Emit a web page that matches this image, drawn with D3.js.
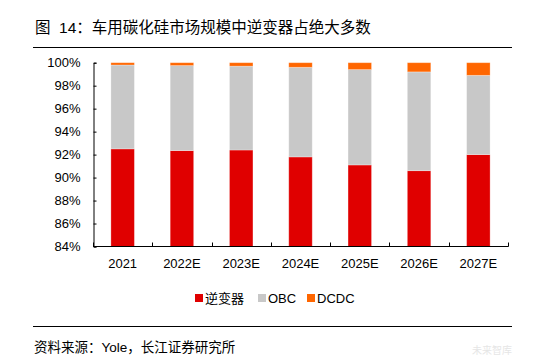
<!DOCTYPE html>
<html><head><meta charset="utf-8">
<script src="https://cdn.jsdelivr.net/npm/d3@7"></script>
<style>body{margin:0;background:#fff;} svg{display:block;}</style>
</head><body>
<svg id="c" width="541" height="357"></svg>
<script>
const categories = ["2021","2022E","2023E","2024E","2025E","2026E","2027E"];
const seriesNames = ["逆变器","OBC","DCDC"];
const inverter = [92.5, 92.35, 92.4, 91.8, 91.1, 90.6, 92.0];
const obc = [7.3, 7.4, 7.3, 7.8, 8.3, 8.6, 6.9];
const dcdc = [0.2, 0.25, 0.3, 0.4, 0.6, 0.8, 1.1];
const yTicks = [84,86,88,90,92,94,96,98,100];
const colors = ["#e00000","#c8c8c8","#ff6600"];

const svg = d3.select("#c");
const font = "'Liberation Sans', Arial, 'Noto Sans CJK SC', sans-serif";
const cjk = "'Liberation Sans', 'Noto Sans CJK SC', sans-serif";

// title
svg.append("text").attr("x",35).attr("y",33).attr("font-family",cjk).attr("font-size",15.5)
  .attr("fill","#000").attr("xml:space","preserve").text("图  14：车用碳化硅市场规模中逆变器占绝大多数");
svg.append("line").attr("x1",33).attr("x2",512).attr("y1",47.5).attr("y2",47.5).attr("stroke","#000").attr("stroke-width",1);

const x = d3.scaleBand().domain(categories).range([93,508]).paddingInner(0.604).paddingOuter(0.302);
const y = d3.scaleLinear().domain([84,100]).range([246.5,62.7]);

const rows = categories.map((c,i)=>({cat:c, "逆变器":inverter[i], "OBC":obc[i], "DCDC":dcdc[i]}));
const stack = d3.stack().keys(seriesNames)(rows);

const g = svg.append("g");
stack.forEach((s,si)=>{
  g.selectAll(null).data(s).enter().append("rect")
    .attr("x",d=>x(d.data.cat))
    .attr("width",x.bandwidth())
    .attr("y",d=>y(Math.min(d[1],100)))
    .attr("height",d=>Math.max(0, y(Math.max(d[0],84)) - y(Math.min(d[1],100))))
    .attr("fill",colors[si])
    .attr("stroke","rgba(255,255,255,0.35)").attr("stroke-width",0.8);
});

// y axis
const yAxis = d3.axisLeft(y).tickValues(yTicks).tickSize(-3).tickFormat(d=>d+"%");
const ya = svg.append("g").attr("transform","translate(93.5,0)").call(yAxis);
ya.select(".domain").attr("stroke","#000");
ya.selectAll(".tick line").attr("stroke","#000");
ya.selectAll(".tick text").attr("x",-13).attr("font-family",font).attr("font-size",13).attr("fill","#000");

// x axis
const xa = svg.append("g").attr("transform","translate(0,246.5)");
xa.append("line").attr("x1",93).attr("x2",508.5).attr("y1",0).attr("y2",0).attr("stroke","#000");
const step = x.step();
const bounds = d3.range(categories.length+1).map(i=>93+i*step);
xa.selectAll(null).data(bounds).enter().append("line")
  .attr("x1",d=>Math.round(d)+0.5).attr("x2",d=>Math.round(d)+0.5).attr("y1",0).attr("y2",-4).attr("stroke","#000");
xa.selectAll(null).data(categories).enter().append("text")
  .attr("x",d=>x(d)+x.bandwidth()/2).attr("y",21).attr("text-anchor","middle")
  .attr("font-family",font).attr("font-size",13).attr("fill","#000").text(d=>d);

// legend
const legendX = [195, 258, 307];
const lg = svg.append("g");
seriesNames.forEach((n,i)=>{
  lg.append("rect").attr("x",legendX[i]).attr("y",294).attr("width",8).attr("height",8).attr("fill",colors[i]);
  lg.append("text").attr("x",legendX[i]+10).attr("y",303).attr("font-family",cjk).attr("font-size",13)
    .attr("fill","#000").text(n);
});

// bottom line & source
svg.append("line").attr("x1",33).attr("x2",512).attr("y1",326.5).attr("y2",326.5).attr("stroke","#000");
svg.append("text").attr("x",34).attr("y",352).attr("font-family",cjk).attr("font-size",13.5)
  .attr("fill","#000").text("资料来源：Yole，长江证券研究所");
svg.append("text").attr("x",472).attr("y",354).attr("font-family",cjk).attr("font-size",10)
  .attr("fill","#e6e6e6").text("未来智库");
</script>
</body></html>
